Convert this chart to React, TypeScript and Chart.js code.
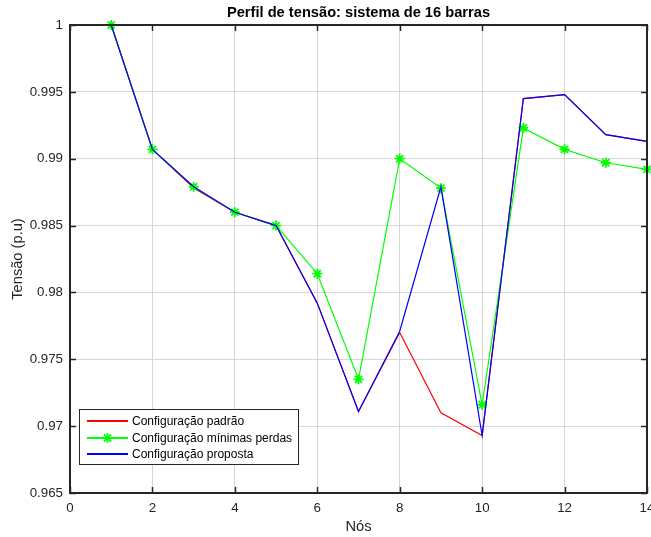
import React, { useEffect, useRef } from "react";
import { Chart, registerables } from "chart.js";

Chart.register(...registerables);

const nodes = [1, 2, 3, 4, 5, 6, 7, 8, 9, 10, 11, 12, 13, 14];
const tensaoPadrao = [1.0, 0.9907, 0.9878, 0.986, 0.985, 0.9792, 0.9711, 0.977, 0.971, 0.9693, 0.9945, 0.9948, 0.9918, 0.9913];
const tensaoMinimasPerdas = [1.0, 0.9907, 0.9879, 0.986, 0.985, 0.9814, 0.9735, 0.99, 0.9878, 0.9716, 0.9923, 0.9907, 0.9897, 0.9892];
const tensaoProposta = [1.0, 0.9907, 0.9879, 0.986, 0.985, 0.9792, 0.9711, 0.9771, 0.9879, 0.9693, 0.9945, 0.9948, 0.9918, 0.9913];

const seriesLabels = ["Configuração padrão", "Configuração mínimas perdas", "Configuração proposta"];
const seriesColors = ["#ff0000", "#00ff00", "#0000ff"];
const titleText = "Perfil de tensão: sistema de 16 barras";
const xLabel = "Nós";
const yLabel = "Tensão (p.u)";
const xMin = 0;
const xMax = 14;
const xStep = 2;
const yMin = 0.965;
const yMax = 1;
const yStep = 0.005;

const FONT = '"Liberation Sans", Arial, Helvetica, sans-serif';
const AXIS_COLOR = "#262626";

const toPoints = (vals: number[]) => vals.map((v, i) => ({ x: nodes[i], y: v }));

const decorPlugin = {
  id: "matlabDecor",
  afterDatasetsDraw(chart: any) {
    const { ctx, chartArea, scales } = chart;
    const { left, right, top, bottom } = chartArea;
    ctx.save();
    ctx.strokeStyle = AXIS_COLOR;
    ctx.lineWidth = 1.5;
    const tl = 6;
    ctx.beginPath();
    scales.x.ticks.forEach((t: any) => {
      const px = Math.round(scales.x.getPixelForValue(t.value)) + 0.5;
      ctx.moveTo(px, bottom);
      ctx.lineTo(px, bottom - tl);
      ctx.moveTo(px, top);
      ctx.lineTo(px, top + tl);
    });
    scales.y.ticks.forEach((t: any) => {
      const py = Math.round(scales.y.getPixelForValue(t.value)) + 0.5;
      ctx.moveTo(left, py);
      ctx.lineTo(left + tl, py);
      ctx.moveTo(right, py);
      ctx.lineTo(right - tl, py);
    });
    ctx.stroke();
    ctx.lineWidth = 2;
    ctx.strokeRect(left, top, right - left, bottom - top);
    ctx.restore();
  },
  afterDraw(chart: any) {
    const { ctx, chartArea } = chart;
    const { left, right, top, bottom } = chartArea;
    const cx = (left + right) / 2;
    ctx.save();
    ctx.fillStyle = "#000000";
    ctx.font = `bold 14.67px ${FONT}`;
    ctx.textAlign = "center";
    ctx.textBaseline = "middle";
    ctx.fillText(titleText, cx, 13);
    ctx.fillStyle = AXIS_COLOR;
    ctx.font = `14.67px ${FONT}`;
    ctx.fillText(xLabel, cx, 527);
    ctx.save();
    ctx.translate(18, (top + bottom) / 2);
    ctx.rotate(-Math.PI / 2);
    ctx.fillText(yLabel, 0, 0);
    ctx.restore();

    const bx = 79.5, by = 409.5, bw = 219, bh = 55;
    ctx.fillStyle = "#ffffff";
    ctx.fillRect(bx, by, bw, bh);
    ctx.strokeStyle = AXIS_COLOR;
    ctx.lineWidth = 1;
    ctx.strokeRect(bx, by, bw, bh);
    const rows = [421, 438, 454];
    ctx.font = `12px ${FONT}`;
    ctx.textAlign = "left";
    ctx.textBaseline = "middle";
    seriesLabels.forEach((lab, i) => {
      const y = rows[i];
      ctx.strokeStyle = seriesColors[i];
      ctx.lineWidth = 2;
      ctx.beginPath();
      ctx.moveTo(87, y);
      ctx.lineTo(128, y);
      ctx.stroke();
      if (i === 1) {
        const mx = 107.5, r = 5;
        ctx.lineWidth = 1.8;
        ctx.beginPath();
        for (let k = 0; k < 4; k++) {
          const a = (k * Math.PI) / 4;
          ctx.moveTo(mx - r * Math.cos(a), y - r * Math.sin(a));
          ctx.lineTo(mx + r * Math.cos(a), y + r * Math.sin(a));
        }
        ctx.stroke();
      }
      ctx.fillStyle = "#000000";
      ctx.fillText(lab, 132, y + 1);
    });
    ctx.restore();
  },
};

export default function App() {
  const canvasRef = useRef<HTMLCanvasElement | null>(null);

  useEffect(() => {
    if (!canvasRef.current) return;
    const chart = new Chart(canvasRef.current, {
      type: "line",
      data: {
        datasets: [
          {
            label: seriesLabels[2],
            data: toPoints(tensaoProposta),
            borderColor: seriesColors[2],
            backgroundColor: seriesColors[2],
            borderWidth: 1.2,
            pointRadius: 0,
            tension: 0,
            order: 0,
            clip: false as any,
          },
          {
            label: seriesLabels[1],
            data: toPoints(tensaoMinimasPerdas),
            borderColor: seriesColors[1],
            backgroundColor: seriesColors[1],
            borderWidth: 1.2,
            pointStyle: "star",
            pointRadius: 5,
            pointBorderWidth: 1.8,
            pointBorderColor: seriesColors[1],
            tension: 0,
            order: 1,
            clip: false as any,
          },
          {
            label: seriesLabels[0],
            data: toPoints(tensaoPadrao),
            borderColor: seriesColors[0],
            backgroundColor: seriesColors[0],
            borderWidth: 1.2,
            pointRadius: 0,
            tension: 0,
            order: 2,
            clip: false as any,
          },
        ],
      },
      options: {
        animation: false,
        responsive: false,
        devicePixelRatio: 1,
        layout: { autoPadding: false, padding: { top: 25, right: 4, left: 0, bottom: 0 } },
        plugins: {
          legend: { display: false },
          title: { display: false },
          tooltip: { enabled: false },
        },
        scales: {
          x: {
            type: "linear",
            min: xMin,
            max: xMax,
            ticks: {
              stepSize: xStep,
              color: AXIS_COLOR,
              font: { family: FONT, size: 13.33 },
              padding: 7,
              maxRotation: 0,
              callback: (v: any) => String(v),
            },
            grid: { color: "#d6d6d6", lineWidth: 1, drawTicks: false },
            border: { display: false },
            afterFit: (s: any) => {
              s.height = 44;
              s.paddingLeft = 0;
              s.paddingRight = 0;
            },
          },
          y: {
            type: "linear",
            min: yMin,
            max: yMax,
            ticks: {
              stepSize: yStep,
              color: AXIS_COLOR,
              font: { family: FONT, size: 13.33 },
              padding: 7,
              callback: (v: any) => String(Number(Number(v).toFixed(3))),
            },
            grid: { color: "#d6d6d6", lineWidth: 1, drawTicks: false },
            border: { display: false },
            afterFit: (s: any) => {
              s.width = 70;
              s.paddingTop = 0;
              s.paddingBottom = 0;
            },
          },
        },
      },
      plugins: [decorPlugin],
    });
    return () => chart.destroy();
  }, []);

  return (
    <div style={{ position: "absolute", left: 0, top: 0, width: 651, height: 537, background: "#ffffff" }}>
      <canvas ref={canvasRef} width={651} height={537} style={{ display: "block", width: 651, height: 537 }} />
    </div>
  );
}
